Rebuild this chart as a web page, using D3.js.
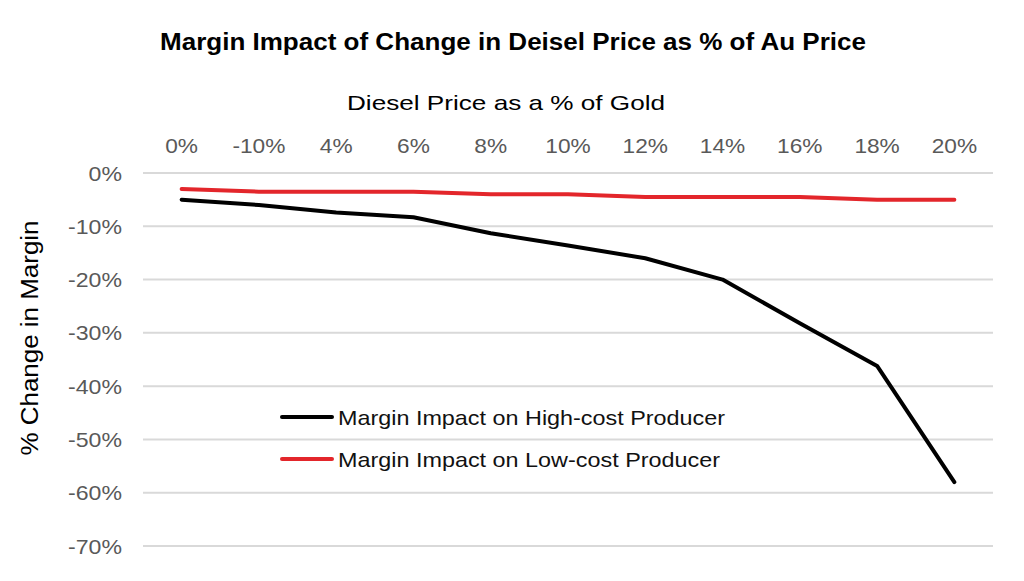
<!DOCTYPE html>
<html>
<head>
<meta charset="utf-8">
<script src="https://cdn.jsdelivr.net/npm/d3@7"></script>
<style>
  body { margin: 0; background: #fff; }
  svg { display: block; font-family: "Liberation Sans", Arial, sans-serif; }
</style>
</head>
<body>
<svg width="1024" height="581"></svg>
<script>
const categories = ["0%", "-10%", "4%", "6%", "8%", "10%", "12%", "14%", "16%", "18%", "20%"];
const highCost = [-5, -6, -7.4, -8.3, -11.3, -13.6, -16, -20, -28.2, -36.2, -58];
const lowCost = [-3, -3.5, -3.5, -3.5, -4, -4, -4.5, -4.5, -4.5, -5, -5];
const yTicks = [0, -10, -20, -30, -40, -50, -60, -70];

const series = [
    { name: "Margin Impact on High-cost Producer", values: highCost, color: "#000000", width: 387 },
    { name: "Margin Impact on Low-cost Producer", values: lowCost, color: "#e3262b", width: 382 }
];

const svg = d3.select("svg");

const x = d3.scalePoint().domain(categories).range([143, 993]).padding(0.5);
const y = d3.scaleLinear().domain([-70, 0]).range([546, 173]);

// the reference text is a bit wider than Liberation Sans at the same height
function stretch(sel, k) {
    sel.each(function() {
        const w = this.getComputedTextLength();
        d3.select(this).attr("textLength", w * k).attr("lengthAdjust", "spacingAndGlyphs");
    });
}

// title
svg.append("text")
    .attr("x", 513).attr("y", 50)
    .attr("text-anchor", "middle")
    .attr("font-size", 23).attr("font-weight", "bold")
    .attr("textLength", 706).attr("lengthAdjust", "spacingAndGlyphs")
    .text("Margin Impact of Change in Deisel Price as % of Au Price");

// x axis title (top)
svg.append("text")
    .attr("x", 506).attr("y", 110)
    .attr("text-anchor", "middle")
    .attr("font-size", 21)
    .attr("textLength", 318).attr("lengthAdjust", "spacingAndGlyphs")
    .text("Diesel Price as a  % of Gold");

// gridlines
svg.append("g")
    .selectAll("line")
    .data(yTicks)
    .enter()
    .append("line")
    .attr("x1", 143).attr("x2", 993)
    .attr("y1", d => y(d)).attr("y2", d => y(d))
    .attr("stroke", "#d9d9d9")
    .attr("stroke-width", 2);

// y tick labels
svg.append("g")
    .selectAll("text")
    .data(yTicks)
    .enter()
    .append("text")
    .attr("x", 122).attr("y", d => y(d) + 7.5)
    .attr("text-anchor", "end")
    .attr("font-size", 21)
    .attr("fill", "#595959")
    .text(d => d + "%")
    .call(stretch, 1.1);

// x tick labels (top)
svg.append("g")
    .selectAll("text")
    .data(categories)
    .enter()
    .append("text")
    .attr("x", d => x(d)).attr("y", 153)
    .attr("text-anchor", "middle")
    .attr("font-size", 21)
    .attr("fill", "#595959")
    .text(d => d)
    .call(stretch, 1.08);

// y axis title
svg.append("text")
    .attr("transform", "translate(38,338) rotate(-90)")
    .attr("text-anchor", "middle")
    .attr("font-size", 23)
    .attr("textLength", 235).attr("lengthAdjust", "spacingAndGlyphs")
    .text("% Change in Margin");

// lines
const line = d3.line()
    .x((d, i) => x(categories[i]))
    .y(d => y(d));

svg.append("g")
    .selectAll("path")
    .data(series.slice().reverse())
    .enter()
    .append("path")
    .attr("d", d => line(d.values))
    .attr("fill", "none")
    .attr("stroke", d => d.color)
    .attr("stroke-width", 4)
    .attr("stroke-linejoin", "round")
    .attr("stroke-linecap", "round");

// legend
const legend = svg.append("g")
    .selectAll("g")
    .data(series)
    .enter()
    .append("g")
    .attr("transform", (d, i) => `translate(0,${417 + i * 42})`);

legend.append("line")
    .attr("x1", 282).attr("x2", 332)
    .attr("stroke", d => d.color)
    .attr("stroke-width", 4)
    .attr("stroke-linecap", "round");

legend.append("text")
    .attr("x", 338).attr("y", 7.5)
    .attr("font-size", 21)
    .attr("fill", "#111")
    .attr("textLength", d => d.width).attr("lengthAdjust", "spacingAndGlyphs")
    .text(d => d.name);
</script>
</body>
</html>
